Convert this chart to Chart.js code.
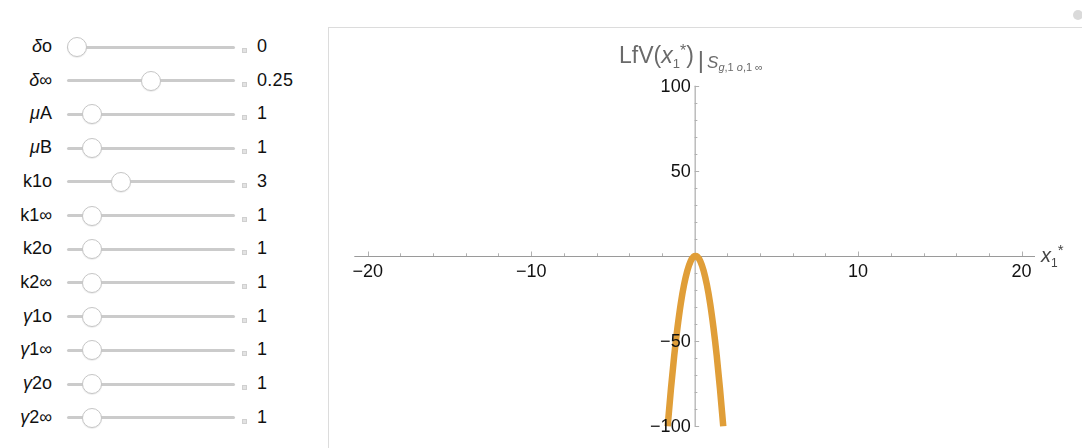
<!DOCTYPE html>
<html>
<head>
<meta charset="utf-8">
<script src="https://cdn.jsdelivr.net/npm/chart.js@4.4.1/dist/chart.umd.min.js"></script>
<style>
  html, body { margin: 0; padding: 0; background: #fff; }
  body { width: 1082px; height: 448px; position: relative; overflow: hidden;
         font-family: "Liberation Sans", Arial, sans-serif; }
  #panel { position: absolute; left: 328px; top: 27px; width: 760px; height: 430px;
           border-left: 1.5px solid #dcdcdc; border-top: 1.5px solid #dcdcdc; background: #fff; }
  #plot { position: absolute; left: 328px; top: 27px; }
  .lbl { position: absolute; left: 0; width: 52px; text-align: right; font-size: 18px; color: #111; line-height: 20px; }
  .track { position: absolute; left: 67px; width: 168px; height: 3px; background: #cbcbcb; border-radius: 2px; }
  .thumb { position: absolute; width: 18px; height: 18px; border-radius: 50%; background: #fff;
           border: 1px solid #c6c6c6; box-shadow: 0 1px 1px rgba(0,0,0,0.08); }
  .plus { position: absolute; left: 242px; width: 5px; height: 5px; background: #e2e2e2; border: 0.5px solid #d0d0d0; box-sizing: border-box; }
  .val { position: absolute; left: 257px; font-size: 18px; color: #111; line-height: 20px; letter-spacing: 0.3px; }
  #title { position: absolute; left: 619px; top: 43px; font-size: 23px; line-height: 23px; color: #6a6a6a; white-space: nowrap; }
  #title .s1 { font-size: 13px; position: relative; top: 5px; }
  #title .s2 { font-size: 16px; position: relative; top: -7px; }
  #title .bar { display: inline-block; font-size: 24px; position: relative; top: 5px; margin: 0 3px 0 4px; }
  #title .S { font-size: 17px; font-style: italic; position: relative; top: 5px; }
  #title .sub { font-size: 11px; position: relative; top: 8px; }
  #xlab { position: absolute; left: 1041px; top: 245px; font-size: 20px; line-height: 20px; color: #444; white-space: nowrap; }
  #xlab .s1 { font-size: 12px; position: relative; top: 5px; }
  #xlab .s2 { font-size: 15px; position: relative; top: -7px; }
  #corner { position: absolute; left: 1073px; top: 10px; width: 10px; height: 10px; border-radius: 50%; background: #dadada; }
</style>
</head>
<body>
<div id="panel"></div>
<canvas id="plot" width="754" height="421"></canvas>
<div id="title">LfV(<i>x</i><span class="s1">1</span><span class="s2">*</span>)<span class="bar">|</span><span class="S">S</span><span class="sub"><i>g</i>,1 <i>o</i>,1 ∞</span></div>
<div id="xlab"><i>x</i><span class="s1">1</span><span class="s2">*</span></div>
<div id="corner"></div>
<div id="sliders"></div>
<script>
// slider controls (label, value, slider maximum)
const sliderLabels = ['<i>δ</i>o', '<i>δ</i>∞', '<i>μ</i>A', '<i>μ</i>B', 'k1o', 'k1∞',
                      'k2o', 'k2∞', '<i>γ</i>1o', '<i>γ</i>1∞', '<i>γ</i>2o', '<i>γ</i>2∞'];
const sliderValues = [0, 0.25, 1, 1, 3, 1, 1, 1, 1, 1, 1, 1];
const sliderMax = [0.5, 0.5, 10, 10, 10, 10, 10, 10, 10, 10, 10, 10];

// curve LfV(x1*)
const curveX = [-1.65, -1.45, -1.25, -1.05, -0.85, -0.65, -0.45, -0.25, -0.05, 0.05,
                0.15, 0.35, 0.55, 0.75, 0.95, 1.15, 1.35, 1.55, 1.75];
const curveY = [-100, -78, -58.5, -42, -28, -17, -8.7, -3.1, -0.3, 0,
                -0.3, -3.1, -8.7, -17, -28, -42, -58.5, -78, -100];

// axis ticks
const xTickValues = [-20, -18, -16, -14, -12, -10, -8, -6, -4, -2, 2, 4, 6, 8, 10, 12, 14, 16, 18, 20];
const xLabelValues = [-20, -10, 10, 20];
const yTickValues = [-100, -90, -80, -70, -60, -50, -40, -30, -20, -10, 10, 20, 30, 40, 50, 60, 70, 80, 90, 100];
const yLabelValues = [-100, -50, 50, 100];

// build slider rows
const sliders = document.getElementById('sliders');
sliderLabels.forEach((label, i) => {
    const cy = 47 + i * 33.7;
    const frac = sliderValues[i] / sliderMax[i];
    const thumbX = 67 + 10 + frac * (168 - 20);
    sliders.insertAdjacentHTML('beforeend',
        `<div class="lbl" style="top:${cy - 11}px">${label}</div>` +
        `<div class="track" style="top:${cy - 1.5}px"></div>` +
        `<div class="thumb" style="left:${thumbX - 10}px;top:${cy - 10}px"></div>` +
        `<div class="plus" style="top:${cy + 1}px"></div>` +
        `<div class="val" style="top:${cy - 11}px">${sliderValues[i]}</div>`);
});

const fmt = v => (v < 0 ? '\u2212' + Math.abs(v) : String(v));

// axes crossing at the origin, Mathematica style
const originAxes = {
    id: 'originAxes',
    beforeDatasetsDraw(chart) {
        const ctx = chart.ctx;
        const xs = chart.scales.x, ys = chart.scales.y;
        const x0 = xs.getPixelForValue(0), y0 = ys.getPixelForValue(0);
        ctx.save();
        ctx.strokeStyle = '#9a9a9a';
        ctx.lineWidth = 1;
        ctx.beginPath();
        ctx.moveTo(chart.chartArea.left, y0 + 0.5);
        ctx.lineTo(chart.chartArea.right, y0 + 0.5);
        ctx.moveTo(x0 + 0.5, ys.getPixelForValue(100));
        ctx.lineTo(x0 + 0.5, ys.getPixelForValue(-100));
        ctx.stroke();

        ctx.strokeStyle = '#b0b0b0';
        ctx.beginPath();
        xTickValues.forEach(v => {
            const px = Math.round(xs.getPixelForValue(v)) + 0.5;
            const len = xLabelValues.includes(v) ? 4.5 : 2.7;
            ctx.moveTo(px, y0);
            ctx.lineTo(px, y0 - len);
        });
        yTickValues.forEach(v => {
            const py = Math.round(ys.getPixelForValue(v)) + 0.5;
            const len = yLabelValues.includes(v) ? 4.5 : 2.7;
            ctx.moveTo(x0, py);
            ctx.lineTo(x0 + len, py);
        });
        ctx.stroke();
        ctx.restore();
    },
    afterDatasetsDraw(chart) {
        const ctx = chart.ctx;
        const xs = chart.scales.x, ys = chart.scales.y;
        const x0 = xs.getPixelForValue(0), y0 = ys.getPixelForValue(0);
        ctx.save();
        ctx.fillStyle = '#111';
        ctx.font = '18px "Liberation Sans", Arial, sans-serif';
        ctx.textAlign = 'center';
        ctx.textBaseline = 'middle';
        xLabelValues.forEach(v => {
            ctx.fillText(fmt(v), xs.getPixelForValue(v), y0 + 16);
        });
        ctx.textAlign = 'right';
        yLabelValues.forEach(v => {
            ctx.fillText(fmt(v), x0 - 4, ys.getPixelForValue(v) + 1);
        });
        ctx.restore();
    }
};

const ctx = document.getElementById('plot').getContext('2d');
new Chart(ctx, {
    type: 'scatter',
    data: {
        datasets: [{
            data: curveX.map((x, i) => ({x: x, y: curveY[i]})),
            showLine: true,
            borderColor: 'rgb(224, 158, 56)',
            borderWidth: 6.5,
            borderCapStyle: 'butt',
            pointRadius: 0,
            tension: 0.4,
            cubicInterpolationMode: 'monotone',
            clip: false
        }]
    },
    options: {
        responsive: false,
        animation: false,
        devicePixelRatio: 1,
        layout: { padding: { left: 26.3, right: 47, top: 58.7, bottom: 21.7 } },
        scales: {
            x: { type: 'linear', min: -20.82, max: 20.82, display: false },
            y: { type: 'linear', min: -100, max: 100, display: false }
        },
        plugins: { legend: { display: false }, tooltip: { enabled: false } }
    },
    plugins: [originAxes]
});
</script>
</body>
</html>
